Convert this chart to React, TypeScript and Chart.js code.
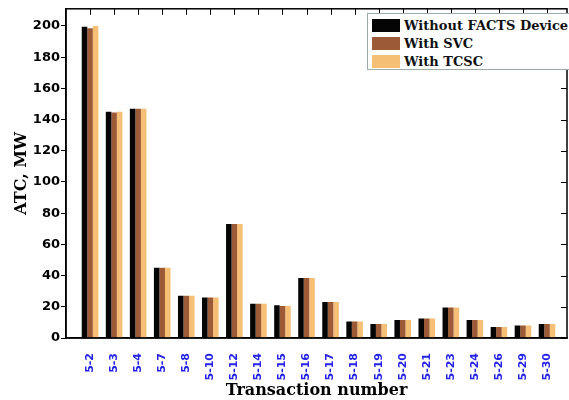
import React, { useEffect, useRef } from "react";
import { Chart, registerables } from "chart.js";

Chart.register(...registerables);

const categories = ["5-2","5-3","5-4","5-7","5-8","5-10","5-12","5-14","5-15","5-16","5-17","5-18","5-19","5-20","5-21","5-23","5-24","5-26","5-29","5-30"];
const withoutFacts = [199.5,145,147,45,27,26,73,22,21,38.5,23,10.5,9,11.5,12.5,19.5,11.5,7,8,9];
const withSVC = [198.5,144.5,147,45,27,26,73,22,20.5,38.5,23,10.5,9,11.5,12.5,19.5,11.5,7,8,9];
const withTCSC = [200,145,147,45,27,26,73,22,20.5,38.5,23,10.5,9,11.5,12.5,19.5,11.5,7,8,9];
const seriesNames = ["Without FACTS Device", "With SVC", "With TCSC"];
const seriesColors = ["#050505", "#9c5b36", "#f5bf76"];
const yTickValues = [0,20,40,60,80,100,120,140,160,180,200];

const toPoints = (vals: number[]) => categories.map((_, i) => ({ x: i, y: vals[i] }));

const boxPlugin = {
  id: "boxPlugin",
  afterDraw(chart: any) {
    const { ctx, chartArea } = chart;
    const x = chart.scales.x;
    const y = chart.scales.y;
    ctx.save();
    ctx.strokeStyle = "#000";
    ctx.lineWidth = 1.5;
    ctx.strokeRect(chartArea.left, chartArea.top, chartArea.right - chartArea.left, chartArea.bottom - chartArea.top);
    ctx.lineWidth = 1;
    for (let i = 0; i < categories.length; i++) {
      const px = Math.round(x.getPixelForValue(i)) + 0.5;
      ctx.beginPath();
      ctx.moveTo(px, chartArea.top);
      ctx.lineTo(px, chartArea.top + 6);
      ctx.stroke();
    }
    for (const v of yTickValues) {
      const py = Math.round(y.getPixelForValue(v)) + 0.5;
      ctx.beginPath();
      ctx.moveTo(chartArea.right, py);
      ctx.lineTo(chartArea.right - 6, py);
      ctx.stroke();
    }
    ctx.restore();
  },
};

export default function App() {
  const ref = useRef<HTMLCanvasElement | null>(null);
  useEffect(() => {
    if (!ref.current) return;
    const chart = new Chart(ref.current, {
      type: "bar",
      data: {
        datasets: [
          { label: seriesNames[0], data: toPoints(withoutFacts), backgroundColor: seriesColors[0] },
          { label: seriesNames[1], data: toPoints(withSVC), backgroundColor: seriesColors[1] },
          { label: seriesNames[2], data: toPoints(withTCSC), backgroundColor: seriesColors[2] },
        ],
      },
      options: {
        animation: false,
        responsive: true,
        maintainAspectRatio: false,
        layout: { padding: { left: 0, right: 2, top: 8, bottom: 0 } },
        datasets: { bar: { barPercentage: 1.0, categoryPercentage: 0.69 } },
        plugins: { legend: { display: false }, tooltip: { enabled: false } },
        scales: {
          x: {
            type: "linear",
            min: -1,
            max: 19.83,
            offset: false,
            grid: { display: false },
            border: { display: true, color: "#000", width: 1.5 },
            ticks: {
              color: "#2424e6",
              font: { family: "DejaVu Sans", size: 11, weight: "bold" },
              minRotation: 90,
              maxRotation: 90,
              autoSkip: false,
              padding: 7,
              callback: (value: any) => categories[value as number] ?? "",
            },
            afterBuildTicks(scale: any) {
              scale.ticks = categories.map((_, i) => ({ value: i }));
            },
            title: {
              display: true,
              text: "Transaction number",
              color: "#000",
              font: { family: "DejaVu Serif", size: 16, weight: "bold" },
              padding: { top: 0, bottom: 0 },
            },
            afterFit(scale: any) { scale.height = 62; },
          },
          y: {
            min: 0,
            max: 211,
            grid: { drawOnChartArea: false, tickLength: 5, color: "#000", lineWidth: 1 },
            border: { display: true, color: "#000", width: 1.5 },
            ticks: {
              stepSize: 20,
              color: "#000",
              font: { family: "DejaVu Sans", size: 13, weight: "bold" },
              padding: 1,
            },
            afterBuildTicks(scale: any) {
              scale.ticks = yTickValues.map((v) => ({ value: v }));
            },
            title: {
              display: true,
              text: "ATC, MW",
              color: "#000",
              font: { family: "DejaVu Serif", size: 16, weight: "bold" },
              padding: { top: 12, bottom: 0 },
            },
            afterFit(scale: any) { scale.width = 66; },
          },
        },
      },
      plugins: [boxPlugin],
    });
    return () => chart.destroy();
  }, []);

  const legendRow = (i: number) => (
    <div key={i} style={{ display: "flex", alignItems: "center", height: 18 }}>
      <div style={{ width: 28, height: 13, background: seriesColors[i], marginRight: 4 }} />
      <span style={{ fontFamily: "DejaVu Serif", fontWeight: "bold", fontSize: 13, color: "#111", whiteSpace: "nowrap" }}>
        {seriesNames[i]}
      </span>
    </div>
  );

  return (
    <div style={{ position: "fixed", left: 0, top: 0, width: 569, height: 400, overflow: "hidden", background: "#fff" }}>
      <canvas ref={ref} />
      <div
        style={{
          position: "absolute",
          left: 367,
          top: 13,
          width: 210,
          height: 57,
          border: "1px solid #9aa",
          background: "#fff",
          padding: "2px 0 0 4px",
          boxSizing: "border-box",
        }}
      >
        {[0, 1, 2].map(legendRow)}
      </div>
    </div>
  );
}
